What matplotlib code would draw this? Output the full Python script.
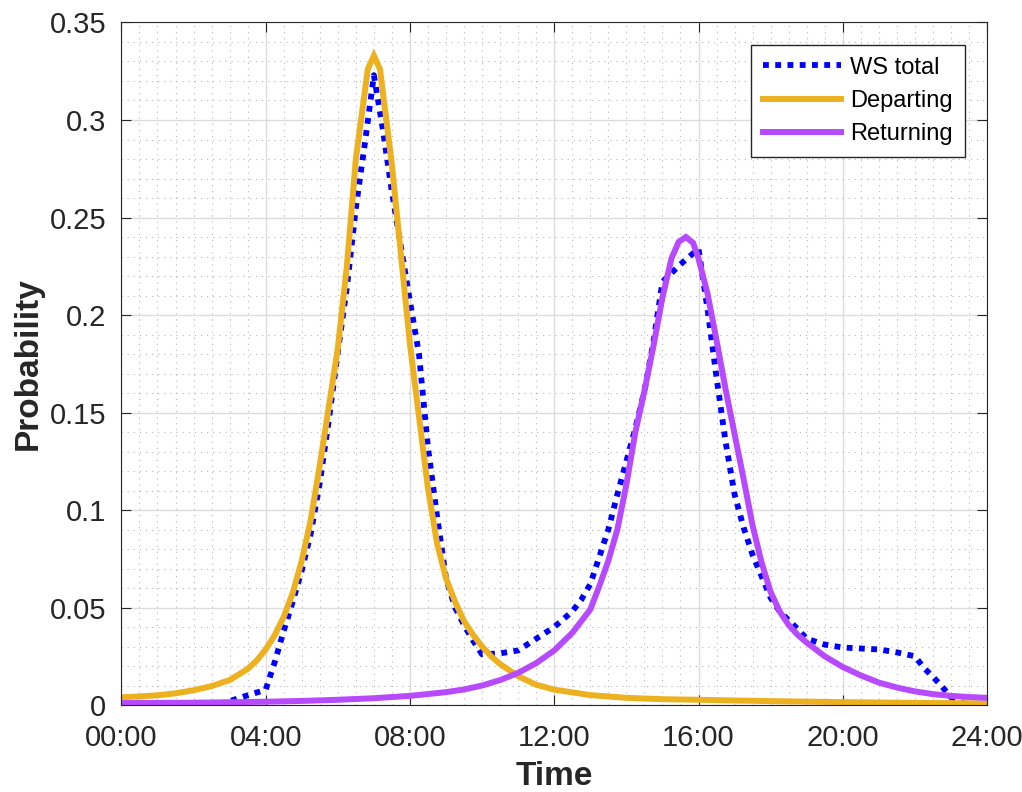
import matplotlib
matplotlib.use("Agg")
import matplotlib.pyplot as plt
from matplotlib.ticker import MultipleLocator, FixedLocator

plt.rcParams["font.family"] = ["Liberation Sans", "DejaVu Sans"]

# WS total, hours of day vs probability
ws_hours = [0, 1, 2, 2.75, 3, 3.5, 4, 4.25, 4.5, 4.75, 5, 5.25, 5.5, 5.75, 6,
            6.25, 6.5, 6.75, 7, 7.25, 7.5, 7.75, 8, 8.25, 8.5, 8.75, 9, 9.25,
            9.5, 9.75, 10, 10.5, 11, 11.5, 12, 12.5, 12.75, 13, 13.25, 13.5,
            13.75, 14, 14.25, 14.5, 14.75, 15, 15.5, 16, 16.25, 16.5, 16.75,
            17, 17.25, 17.5, 17.75, 18, 18.25, 18.5, 18.75, 19, 19.5, 20, 20.5,
            21, 21.5, 22, 22.25, 22.5, 22.75, 23, 23.25, 23.5, 24]
ws_prob = [0.0003, 0.0003, 0.0004, 0.0008, 0.0020, 0.0050, 0.0078, 0.022,
           0.038, 0.053, 0.069, 0.088, 0.114, 0.146, 0.181, 0.214, 0.255,
           0.288, 0.323, 0.295, 0.263, 0.235, 0.207, 0.180, 0.132, 0.097,
           0.065, 0.050, 0.041, 0.033, 0.026, 0.0265, 0.028, 0.034, 0.040,
           0.048, 0.054, 0.062, 0.076, 0.090, 0.108, 0.125, 0.142, 0.161,
           0.186, 0.217, 0.226, 0.234, 0.203, 0.168, 0.135, 0.108, 0.091,
           0.077, 0.066, 0.055, 0.048, 0.0435, 0.039, 0.034, 0.031, 0.0295,
           0.029, 0.0285, 0.027, 0.025, 0.019, 0.0145, 0.0095, 0.004, 0.0015,
           0.0005, 0.0005]

# Departing
dep_hours = [0, 0.5, 1, 1.5, 2, 2.5, 3, 3.5, 3.75, 4, 4.25, 4.5, 4.75, 5,
             5.25, 5.5, 5.75, 6, 6.25, 6.5, 6.83, 7, 7.17, 7.5, 7.75, 8, 8.25,
             8.5, 8.75, 9, 9.25, 9.5, 9.75, 10, 10.25, 10.5, 11, 11.5, 12, 13,
             14, 15, 16, 18, 20, 22, 24]
dep_prob = [0.0040, 0.0044, 0.0050, 0.0060, 0.0076, 0.0097, 0.0128, 0.0185,
            0.0228, 0.0285, 0.0358, 0.0452, 0.0575, 0.0740, 0.0950, 0.1230,
            0.1530, 0.1830, 0.2250, 0.2800, 0.3260, 0.3330, 0.3260, 0.2770,
            0.2310, 0.1850, 0.1480, 0.1110, 0.0830, 0.0650, 0.0530, 0.0430,
            0.0360, 0.0300, 0.0250, 0.0210, 0.0148, 0.0104, 0.0079, 0.0051,
            0.0037, 0.0030, 0.0027, 0.0020, 0.0015, 0.0011, 0.0009]

# Returning
ret_hours = [0, 2, 4, 5, 6, 7, 8, 9, 9.5, 10, 10.5, 11, 11.5, 12, 12.5, 13,
             13.25, 13.5, 13.75, 14, 14.25, 14.5, 14.75, 15, 15.25, 15.45,
             15.65, 15.85, 16, 16.25, 16.5, 16.75, 17, 17.25, 17.5, 17.75, 18,
             18.25, 18.5, 18.75, 19, 19.5, 20, 20.5, 21, 21.5, 22, 22.5, 23,
             23.5, 24]
ret_prob = [0.0010, 0.0012, 0.0017, 0.0021, 0.0027, 0.0035, 0.0047, 0.0066,
            0.0080, 0.0100, 0.0128, 0.0165, 0.0215, 0.0280, 0.0370, 0.0490,
            0.0610, 0.0740, 0.0900, 0.1130, 0.1400, 0.1610, 0.1840, 0.2090,
            0.2290, 0.2375, 0.2400, 0.2370, 0.2290, 0.2110, 0.1870, 0.1620,
            0.1390, 0.1160, 0.0920, 0.0730, 0.0580, 0.0480, 0.0410, 0.0360,
            0.0320, 0.0250, 0.0195, 0.0152, 0.0115, 0.0090, 0.0070, 0.0056,
            0.0047, 0.0041, 0.0037]

x_ticks = [0, 4, 8, 12, 16, 20, 24]
x_tick_labels = ["00:00", "04:00", "08:00", "12:00", "16:00", "20:00", "24:00"]
y_ticks = [0, 0.05, 0.1, 0.15, 0.2, 0.25, 0.3, 0.35]
y_tick_labels = ["0", "0.05", "0.1", "0.15", "0.2", "0.25", "0.3", "0.35"]

assert len(ws_hours) == len(ws_prob)
assert len(dep_hours) == len(dep_prob)
assert len(ret_hours) == len(ret_prob)

ink = "#262626"

fig = plt.figure(figsize=(10.22, 7.92), dpi=100)
ax = fig.add_axes([0.1188, 0.1098, 0.8470, 0.8618])

ax.plot(ws_hours, ws_prob, color=(0, 0, 1), lw=4.2, linestyle=(0, (1, 1.1)),
        dash_capstyle="butt", label="WS total")
ax.plot(dep_hours, dep_prob, color="#EDB120", lw=4.3, label="Departing",
        solid_joinstyle="miter")
ax.plot(ret_hours, ret_prob, color="#B74AFF", lw=4.3, label="Returning",
        solid_joinstyle="miter")

ax.set_xlim(0, 24)
ax.set_ylim(0, 0.35)
ax.xaxis.set_major_locator(FixedLocator(x_ticks))
ax.set_xticklabels(x_tick_labels)
ax.yaxis.set_major_locator(FixedLocator(y_ticks))
ax.set_yticklabels(y_tick_labels)
ax.xaxis.set_minor_locator(MultipleLocator(0.5))
ax.yaxis.set_minor_locator(MultipleLocator(0.01))

ax.set_axisbelow(True)
ax.grid(which="major", color="#DCDCDC", lw=1.0, ls="-")
ax.grid(which="minor", color="#B8B8B8", lw=0.8, ls=(0, (1, 4.5)))

ax.tick_params(which="major", direction="in", length=7, width=0.8,
               top=True, right=True, labelsize=21, colors=ink)
ax.tick_params(axis="x", which="major", pad=14)
ax.tick_params(axis="y", which="major", pad=11)
ax.tick_params(which="minor", length=0, top=True, right=True)
for spine in ax.spines.values():
    spine.set_color(ink)
    spine.set_linewidth(0.8)

ax.set_xlabel("Time", fontsize=24, fontweight="bold", color=ink, labelpad=6)
ax.set_ylabel("Probability", fontsize=24, fontweight="bold", color=ink,
              labelpad=4)

leg = ax.legend(loc="upper right", fontsize=17, handlelength=3.3,
                borderaxespad=0.95, labelspacing=0.48, handletextpad=0.4,
                borderpad=0.5, fancybox=False, framealpha=1)
leg.get_frame().set_edgecolor(ink)
leg.get_frame().set_linewidth(1.0)

fig.savefig("out.png", dpi=100, facecolor="white")
